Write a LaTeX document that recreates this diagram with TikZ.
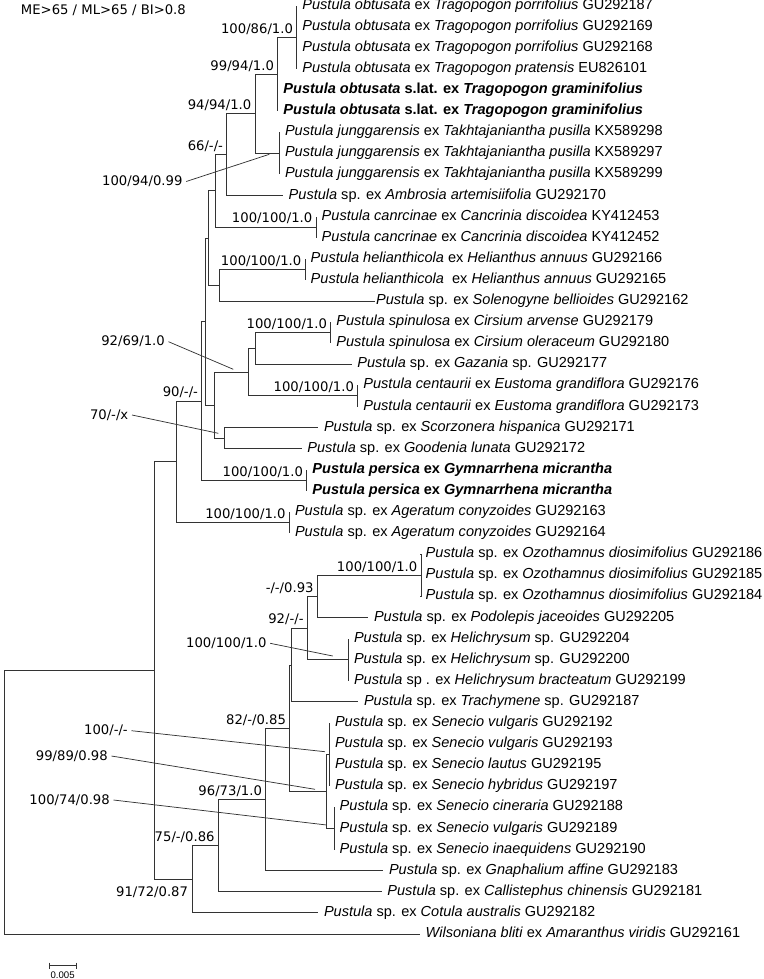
\documentclass[tikz,border=0pt]{standalone}
\usepackage{fontspec}
\setmainfont{Liberation Sans}
\newfontfamily\verdfont{DejaVu Sans}
\usepackage{tikz}
\usetikzlibrary{calc, positioning}

\begin{document}
\begin{tikzpicture}[x=0.75pt, y=-0.75pt,
    branch/.style={line width=0.7pt, black!80},
    leader/.style={line width=0.55pt, black!80},
    leaf/.style={anchor=mid west, inner xsep=4.1pt, inner ysep=0pt, font=\fontsize{10.9}{13}\selectfont},
    bs/.style={anchor=base east, inner sep=0pt, xshift=-2.6pt, yshift=3.2pt, font=\verdfont\fontsize{9.9}{12}\selectfont},
    lead/.style={anchor=east, inner xsep=2.6pt, inner ysep=1pt, font=\verdfont\fontsize{9.9}{12}\selectfont}]

    \useasboundingbox (0,0) rectangle (764,979);

    % 1. Tieu de
    \node[anchor=base west, inner sep=0pt, font=\verdfont\fontsize{9.9}{12}\selectfont] (hdr) at (20.7,14.8) {ME>65 / ML>65 / BI>0.8};

    % 2. Cac nut trong cua cay
    \coordinate (nObt) at (296.7,37.6);
    \coordinate (nA) at (277.7,74.35);
    \coordinate (nJun) at (279.3,153.3);
    \coordinate (nB94) at (255,113.8);
    \coordinate (n66) at (226.7,154.6);
    \coordinate (nCan) at (316,227.15);
    \coordinate (nBC) at (215.7,190.9);
    \coordinate (nHel) at (305,269.35);
    \coordinate (nD) at (219.3,285.2);
    \coordinate (nC) at (208.3,238.05);
    \coordinate (nSpi) at (330.7,332.65);
    \coordinate (nSG) at (255.7,348.5);
    \coordinate (nCen) at (357.7,395.95);
    \coordinate (nG) at (248.3,372.2);
    \coordinate (nH) at (224,438.15);
    \coordinate (nF) at (214,405.2);
    \coordinate (nE) at (205.3,321.6);
    \coordinate (nPer) at (306.7,480.35);
    \coordinate (nI) at (201.7,401);
    \coordinate (nAge) at (289.3,522.55);
    \coordinate (nJ) at (176.7,461.8);
    \coordinate (nOzo) at (421,575.3);
    \coordinate (nR) at (317.3,596.4);
    \coordinate (nHeli) at (348.3,659.7);
    \coordinate (nQp) at (307.3,628.05);
    \coordinate (nQ) at (291.3,665);
    \coordinate (nS1) at (329.3,754.65);
    \coordinate (nS2) at (334,828.5);
    \coordinate (nP) at (326.7,791.6);
    \coordinate (nO) at (289.7,728.3);
    \coordinate (nN) at (265.7,799.5);
    \coordinate (nM) at (218.3,845.65);
    \coordinate (nL) at (192.7,879.3);
    \coordinate (nK) at (154.3,670.55);
    \coordinate (nRoot) at (4.3,802.3);

    % 3. Cac la
    \node[leaf] (l1) at (296.7,6.3) {\textit{Pustula obtusata} ex \textit{Tragopogon porrifolius} GU292187};
    \node[leaf] (l2) at (296.7,26.7) {\textit{Pustula obtusata} ex \textit{Tragopogon porrifolius} GU292169};
    \node[leaf] (l3) at (296.7,47.8) {\textit{Pustula obtusata} ex \textit{Tragopogon porrifolius} GU292168};
    \node[leaf] (l4) at (296.7,68.9) {\textit{Pustula obtusata} ex \textit{Tragopogon pratensis} EU826101};
    \node[leaf] (l5) at (277.7,90.0) {\textbf{\textit{Pustula obtusata} s.lat. ex \textit{Tragopogon graminifolius}}};
    \node[leaf] (l6) at (277.7,111.1) {\textbf{\textit{Pustula obtusata} s.lat. ex \textit{Tragopogon graminifolius}}};
    \node[leaf] (l7) at (279.3,132.2) {\textit{Pustula junggarensis} ex \textit{Takhtajaniantha pusilla} KX589298};
    \node[leaf] (l8) at (279.3,153.3) {\textit{Pustula junggarensis} ex \textit{Takhtajaniantha pusilla} KX589297};
    \node[leaf] (l9) at (279.3,174.4) {\textit{Pustula junggarensis} ex \textit{Takhtajaniantha pusilla} KX589299};
    \node[leaf] (l10) at (283,195.5) {\textit{Pustula} sp. ex \textit{Ambrosia artemisiifolia} GU292170};
    \node[leaf] (l11) at (316,216.6) {\textit{Pustula canrcinae} ex \textit{Cancrinia discoidea} KY412453};
    \node[leaf] (l12) at (316,237.7) {\textit{Pustula cancrinae} ex \textit{Cancrinia discoidea} KY412452};
    \node[leaf] (l13) at (305,258.8) {\textit{Pustula helianthicola} ex \textit{Helianthus annuus} GU292166};
    \node[leaf] (l14) at (305,279.9) {\textit{Pustula helianthicola}\ \ ex \textit{Helianthus annuus} GU292165};
    \node[leaf, inner xsep=0.6pt] (l15) at (375,301.0) {\textit{Pustula} sp. ex \textit{Solenogyne bellioides} GU292162};
    \node[leaf] (l16) at (330.7,322.1) {\textit{Pustula spinulosa} ex \textit{Cirsium arvense} GU292179};
    \node[leaf] (l17) at (330.7,343.2) {\textit{Pustula spinulosa} ex \textit{Cirsium oleraceum} GU292180};
    \node[leaf] (l18) at (351.7,364.3) {\textit{Pustula} sp. ex \textit{Gazania} sp. GU292177};
    \node[leaf] (l19) at (357.7,385.4) {\textit{Pustula centaurii} ex \textit{Eustoma grandiflora} GU292176};
    \node[leaf] (l20) at (357.7,406.5) {\textit{Pustula centaurii} ex \textit{Eustoma grandiflora} GU292173};
    \node[leaf] (l21) at (318.3,427.6) {\textit{Pustula} sp. ex \textit{Scorzonera hispanica} GU292171};
    \node[leaf] (l22) at (301.7,448.7) {\textit{Pustula} sp. ex \textit{Goodenia lunata} GU292172};
    \node[leaf] (l23) at (306.7,469.8) {\textbf{\textit{Pustula persica} ex \textit{Gymnarrhena micrantha}}};
    \node[leaf] (l24) at (306.7,490.9) {\textbf{\textit{Pustula persica} ex \textit{Gymnarrhena micrantha}}};
    \node[leaf] (l25) at (289.3,512.0) {\textit{Pustula} sp. ex \textit{Ageratum conyzoides} GU292163};
    \node[leaf] (l26) at (289.3,533.1) {\textit{Pustula} sp. ex \textit{Ageratum conyzoides} GU292164};
    \node[leaf] (l27) at (420,554.2) {\textit{Pustula} sp. ex \textit{Ozothamnus diosimifolius} GU292186};
    \node[leaf] (l28) at (420,575.3) {\textit{Pustula} sp. ex \textit{Ozothamnus diosimifolius} GU292185};
    \node[leaf] (l29) at (420,596.4) {\textit{Pustula} sp. ex \textit{Ozothamnus diosimifolius} GU292184};
    \node[leaf] (l30) at (368.3,617.5) {\textit{Pustula} sp. ex \textit{Podolepis jaceoides} GU292205};
    \node[leaf] (l31) at (348.3,638.6) {\textit{Pustula} sp. ex \textit{Helichrysum} sp. GU292204};
    \node[leaf] (l32) at (348.3,659.7) {\textit{Pustula} sp. ex \textit{Helichrysum} sp. GU292200};
    \node[leaf] (l33) at (348.3,680.8) {\textit{Pustula} sp . ex \textit{Helichrysum bracteatum} GU292199};
    \node[leaf] (l34) at (358.3,701.9) {\textit{Pustula} sp. ex \textit{Trachymene} sp. GU292187};
    \node[leaf] (l35) at (329.3,723.0) {\textit{Pustula} sp. ex \textit{Senecio vulgaris} GU292192};
    \node[leaf] (l36) at (329.3,744.1) {\textit{Pustula} sp. ex \textit{Senecio vulgaris} GU292193};
    \node[leaf] (l37) at (329.3,765.2) {\textit{Pustula} sp. ex \textit{Senecio lautus} GU292195};
    \node[leaf] (l38) at (329.3,786.3) {\textit{Pustula} sp. ex \textit{Senecio hybridus} GU292197};
    \node[leaf] (l39) at (334,807.4) {\textit{Pustula} sp. ex \textit{Senecio cineraria} GU292188};
    \node[leaf] (l40) at (334,828.5) {\textit{Pustula} sp. ex \textit{Senecio vulgaris} GU292189};
    \node[leaf] (l41) at (334,849.6) {\textit{Pustula} sp. ex \textit{Senecio inaequidens} GU292190};
    \node[leaf] (l42) at (383.3,870.7) {\textit{Pustula} sp. ex \textit{Gnaphalium affine} GU292183};
    \node[leaf] (l43) at (381.7,891.8) {\textit{Pustula} sp. ex \textit{Callistephus chinensis} GU292181};
    \node[leaf] (l44) at (318.3,912.9) {\textit{Pustula} sp. ex \textit{Cotula australis} GU292182};
    \node[leaf] (l45) at (420,934.0) {\textit{Wilsoniana bliti} ex \textit{Amaranthus viridis} GU292161};

    % 4. Ve cac nhanh
    \foreach \p/\c in {nObt/l1.mid west, nObt/l2.mid west, nObt/l3.mid west, nObt/l4.mid west,
                       nA/nObt, nA/l5.mid west, nA/l6.mid west,
                       nJun/l7.mid west, nJun/l8.mid west, nJun/l9.mid west,
                       nB94/nA, nB94/nJun, n66/nB94, n66/l10.mid west,
                       nCan/l11.mid west, nCan/l12.mid west, nBC/n66, nBC/nCan,
                       nHel/l13.mid west, nHel/l14.mid west, nD/nHel, nD/l15.mid west,
                       nC/nBC, nC/nD,
                       nSpi/l16.mid west, nSpi/l17.mid west, nSG/nSpi, nSG/l18.mid west,
                       nCen/l19.mid west, nCen/l20.mid west, nG/nSG, nG/nCen,
                       nH/l21.mid west, nH/l22.mid west, nF/nG, nF/nH, nE/nC, nE/nF,
                       nPer/l23.mid west, nPer/l24.mid west, nI/nE, nI/nPer,
                       nAge/l25.mid west, nAge/l26.mid west, nJ/nI, nJ/nAge,
                       nOzo/l27.mid west, nOzo/l28.mid west, nOzo/l29.mid west,
                       nR/nOzo, nR/l30.mid west,
                       nHeli/l31.mid west, nHeli/l32.mid west, nHeli/l33.mid west,
                       nQp/nR, nQp/nHeli, nQ/nQp, nQ/l34.mid west,
                       nS1/l35.mid west, nS1/l36.mid west, nS1/l37.mid west, nS1/l38.mid west,
                       nS2/l39.mid west, nS2/l40.mid west, nS2/l41.mid west, nP/nS1, nP/nS2,
                       nO/nQ, nO/nP, nN/nO, nN/l42.mid west, nM/nN, nM/l43.mid west,
                       nL/nM, nL/l44.mid west, nK/nJ, nK/nL, nRoot/nK, nRoot/l45.mid west} {
        \draw[branch] (\p) |- (\c);
    }

    % 5. Gia tri ho tro
    \node[bs] (bObt) at (nObt) {100/86/1.0};
    \node[bs] (bA) at (nA) {99/94/1.0};
    \node[bs] (bB94) at (nB94) {94/94/1.0};
    \node[bs] (b66) at (n66) {66/-/-};
    \node[bs] (bCan) at (nCan) {100/100/1.0};
    \node[bs] (bHel) at (nHel) {100/100/1.0};
    \node[bs] (bSpi) at (nSpi) {100/100/1.0};
    \node[bs] (bCen) at (nCen) {100/100/1.0};
    \node[bs] (bI) at (nI) {90/-/-};
    \node[bs] (bPer) at (nPer) {100/100/1.0};
    \node[bs] (bAge) at (nAge) {100/100/1.0};
    \node[bs] (bOzo) at (nOzo) {100/100/1.0};
    \node[bs] (bR) at (nR) {-/-/0.93};
    \node[bs] (bQp) at (nQp) {92/-/-};
    \node[bs] (bO) at (nO) {82/-/0.85};
    \node[bs] (bN) at (nN) {96/73/1.0};
    \node[bs] (bM) at (nM) {75/-/0.86};
    \node[bs, yshift=-16.1pt, xshift=-0.7pt] (bL) at (nL) {91/72/0.87};

    % 6. Nhan co duong dan
    \coordinate (pJun) at (269.3,154.3);
    \coordinate (pG) at (233.3,369.3);
    \coordinate (pH) at (218.3,433.3);
    \coordinate (pHeli) at (332.7,656);
    \coordinate (pS1) at (325,751.7);
    \coordinate (pP) at (315,789.3);
    \coordinate (pS2) at (326.7,825);
    \node[lead] (bJun) at (186.2,181.5) {100/94/0.99};
    \node[lead] (bG) at (168.5,341.7) {92/69/1.0};
    \node[lead] (bH) at (132,415) {70/-/x};
    \node[lead] (bHeli) at (270.2,643.3) {100/100/1.0};
    \node[lead] (bS1) at (131.5,730.7) {100/-/-};
    \node[lead] (bP) at (111.5,756) {99/89/0.98};
    \node[lead] (bS2) at (113.5,800) {100/74/0.98};
    \foreach \a/\b in {bJun/pJun, bG/pG, bH/pH, bHeli/pHeli, bS1/pS1, bP/pP, bS2/pS2} {
        \draw[leader] (\a.east) -- (\b);
    }

    % 7. Thuoc ti le
    \coordinate (sb1) at (49.3,965.7);
    \coordinate (sb2) at (76,965.7);
    \draw[branch] (sb1) -- (sb2);
    \draw[branch] ($(sb1)+(0,-3)$) -- ($(sb1)+(0,3)$);
    \draw[branch] ($(sb2)+(0,-3)$) -- ($(sb2)+(0,3)$);
    \node[font=\fontsize{7.2}{8}\selectfont, inner sep=0pt] (sbl) at (62.6,975.5) {0.005};
\end{tikzpicture}
\end{document}
